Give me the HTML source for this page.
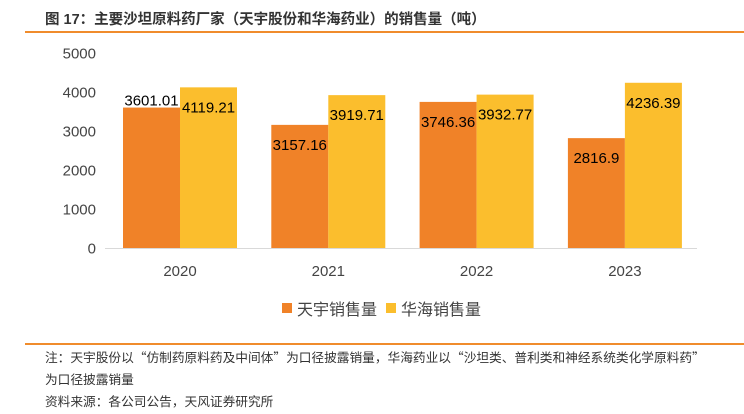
<!DOCTYPE html>
<html><head><meta charset="utf-8"><style>
body{margin:0;width:744px;height:414px;background:#fff;font-family:"Liberation Sans","Noto Sans CJK SC",sans-serif;position:relative;overflow:hidden}
.t{position:absolute;left:45px;top:8px;font-size:14.5px;font-weight:bold;color:#333}
.ln{position:absolute;left:25px;right:0;height:1.5px;background:#f08c2c}
.n{position:absolute;left:45px;font-size:12.7px;color:#333}
.q{font-family:"Noto Sans CJK SC",sans-serif}
</style></head><body>
<div class="t">图 17：主要沙坦原料药厂家（天宇股份和华海药业）的销售量（吨）</div>
<div class="ln" style="top:31px"></div>
<svg id="c" width="744" height="330" style="position:absolute;left:0;top:0"></svg>
<div class="ln" style="top:343px"></div>
<div class="n" style="top:347px">注：天宇股份以<span class="q">“</span>仿制药原料药及中间体<span class="q">”</span>为口径披露销量，华海药业以<span class="q">“</span>沙坦类、普利类和神经系统类化学原料药<span class="q">”</span></div>
<div class="n" style="top:369px">为口径披露销量</div>
<div class="n" style="top:391px">资料来源：各公司公告，天风证券研究所</div>
<script>
const categories=["2020","2021","2022","2023"];
const tianyu=[3601.01,3157.16,3746.36,2816.9];
const huahai=[4119.21,3919.71,3932.77,4236.39];
const labelsA=["3601.01","3157.16","3746.36","2816.9"];
const labelsB=["4119.21","3919.71","3932.77","4236.39"];
const ticks=[0,1000,2000,3000,4000,5000];
const svg=document.getElementById('c');const NS="http://www.w3.org/2000/svg";
const y=v=>248-v*0.039;const cx=i=>180+i*148.3;const bw=57;
function mk(t,a){const e=document.createElementNS(NS,t);for(const k in a)e.setAttribute(k,a[k]);svg.appendChild(e);return e;}
ticks.forEach(v=>{const e=mk('text',{x:96,y:y(v)+5.5,'text-anchor':'end','font-size':15,fill:'#444'});e.textContent=v;

});
const ax=mk('line',{x1:105,x2:697,y1:248.5,y2:248.5,stroke:'#d9d9d9'});


categories.forEach((c,i)=>{
 const t=mk('text',{x:cx(i),y:276,'text-anchor':'middle','font-size':15,fill:'#444'});t.textContent=c;
 
 
 const a=mk('rect',{x:cx(i)-bw,y:y(tianyu[i]),width:bw,height:248-y(tianyu[i]),fill:'#f08228'});
 
 
 const b=mk('rect',{x:cx(i),y:y(huahai[i]),width:bw,height:248-y(huahai[i]),fill:'#fbbe2d'});
 
 
 const ya=i===0?y(tianyu[i])-2:y(tianyu[i])+25;
 const la=mk('text',{x:cx(i)-bw/2,y:ya,'text-anchor':'middle','font-size':15,fill:'#000'});la.textContent=labelsA[i];
 
 
 const lb=mk('text',{x:cx(i)+bw/2,y:y(huahai[i])+25,'text-anchor':'middle','font-size':15,fill:'#000'});lb.textContent=labelsB[i];
 
 
});
const l1=mk('rect',{x:282,y:303,width:10,height:10,fill:'#f08228'});


const t1=mk('text',{x:297,y:315,'font-size':16,fill:'#444'});t1.textContent='天宇销售量';


const l2=mk('rect',{x:386,y:303,width:10,height:10,fill:'#fbbe2d'});


const t2=mk('text',{x:401,y:315,'font-size':16,fill:'#444'});t2.textContent='华海销售量';


</script>
</body></html>
